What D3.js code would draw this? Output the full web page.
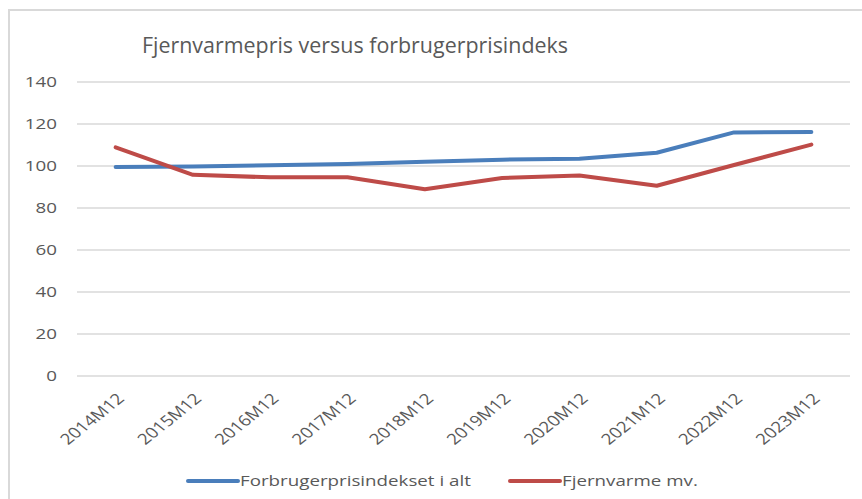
<!DOCTYPE html>
<html>
<head>
<meta charset="utf-8">
<script src="https://cdn.jsdelivr.net/npm/d3@7"></script>
<style>
  body { margin: 0; background: #fff; }
  svg text { font-family: "Open Sans", "Noto Sans", sans-serif; fill: #595959; }
</style>
</head>
<body>
<div id="chart"></div>
<script>
// Categories and series
const categories = ["2014M12", "2015M12", "2016M12", "2017M12", "2018M12",
    "2019M12", "2020M12", "2021M12", "2022M12", "2023M12"];
const forbrugerValues = [99.5, 99.8, 100.3, 101.0, 102.0, 103.0, 103.5, 106.3, 116.0, 116.2];
const fjernvarmeValues = [108.9, 95.8, 94.6, 94.6, 88.9, 94.3, 95.5, 90.6, 100.5, 110.2];
const yTicks = [0, 20, 40, 60, 80, 100, 120, 140];
const seriesNames = ["Forbrugerprisindekset i alt", "Fjernvarme mv."];

const CONFIG = {
    width: 862,
    height: 499,
    left: 77,
    right: 850,
    top: 82,
    bottom: 376,
    stretch: 1.25,   // the source picture is stretched sideways
    colors: ["#4a7ebb", "#be4b48"]
};

const svg = d3.select('#chart')
    .append('svg')
    .attr('width', CONFIG.width)
    .attr('height', CONFIG.height);

// chart frame (only top and left edges visible in the crop)
svg.append('path')
    .attr('d', `M 9 ${CONFIG.height} V 10 H ${CONFIG.width}`)
    .attr('fill', 'none')
    .attr('stroke', '#d9d9d9')
    .attr('stroke-width', 2);

svg.append('text')
    .attr('x', 142)
    .attr('y', 53)
    .attr('textLength', 426)
    .attr('lengthAdjust', 'spacingAndGlyphs')
    .style('font-size', '22px')
    .text('Fjernvarmepris versus forbrugerprisindeks');

const x = d3.scaleBand()
    .domain(categories)
    .range([CONFIG.left, CONFIG.right]);

const y = d3.scaleLinear()
    .domain([0, 140])
    .range([CONFIG.bottom, CONFIG.top]);

// gridlines
svg.append('g')
    .selectAll('line')
    .data(yTicks)
    .join('line')
    .attr('x1', CONFIG.left)
    .attr('x2', CONFIG.right)
    .attr('y1', d => y(d))
    .attr('y2', d => y(d))
    .attr('stroke', '#d9d9d9')
    .attr('stroke-width', 1.5);

// y axis labels
const yAxis = svg.append('g')
    .attr('transform', `translate(${CONFIG.left - 20},0)`)
    .call(d3.axisLeft(y).tickValues(yTicks).tickSize(0).tickPadding(0));
yAxis.select('.domain').remove();
yAxis.selectAll('text')
    .attr('fill', '#595959')
    .attr('x', null)
    .attr('transform', `scale(${CONFIG.stretch},1)`)
    .style('font-size', '15px')
    .style('font-family', '"Open Sans", sans-serif');

// x axis labels, rotated
const xAxis = svg.append('g')
    .attr('transform', `translate(0,${CONFIG.bottom})`)
    .call(d3.axisBottom(x).tickSize(0).tickPadding(0));
xAxis.select('.domain').remove();
xAxis.selectAll('text')
    .attr('fill', '#595959')
    .attr('text-anchor', 'end')
    .attr('dy', '0.35em')
    .attr('y', 0)
    .attr('transform', `translate(5,20) scale(${CONFIG.stretch},1) rotate(-45)`)
    .style('font-size', '15px')
    .style('font-family', '"Open Sans", sans-serif');

// lines
const line = d3.line()
    .x((d, i) => x(categories[i]) + x.bandwidth() / 2)
    .y(d => y(d));

[forbrugerValues, fjernvarmeValues].forEach((vals, i) => {
    svg.append('path')
        .datum(vals)
        .attr('d', line)
        .attr('fill', 'none')
        .attr('stroke', CONFIG.colors[i])
        .attr('stroke-width', 4)
        .attr('stroke-linecap', 'round')
        .attr('stroke-linejoin', 'round');
});

// legend
const legendX = [188, 510];
const legend = svg.append('g')
    .selectAll('g')
    .data(seriesNames)
    .join('g')
    .attr('transform', (d, i) => `translate(${legendX[i]},481)`);

legend.append('line')
    .attr('x1', 0)
    .attr('x2', 50)
    .attr('stroke', (d, i) => CONFIG.colors[i])
    .attr('stroke-width', 4)
    .attr('stroke-linecap', 'round');

legend.append('text')
    .attr('x', 52 / CONFIG.stretch)
    .attr('dy', '0.35em')
    .attr('transform', `scale(${CONFIG.stretch},1)`)
    .style('font-size', '15px')
    .text(d => d);
</script>
</body>
</html>
